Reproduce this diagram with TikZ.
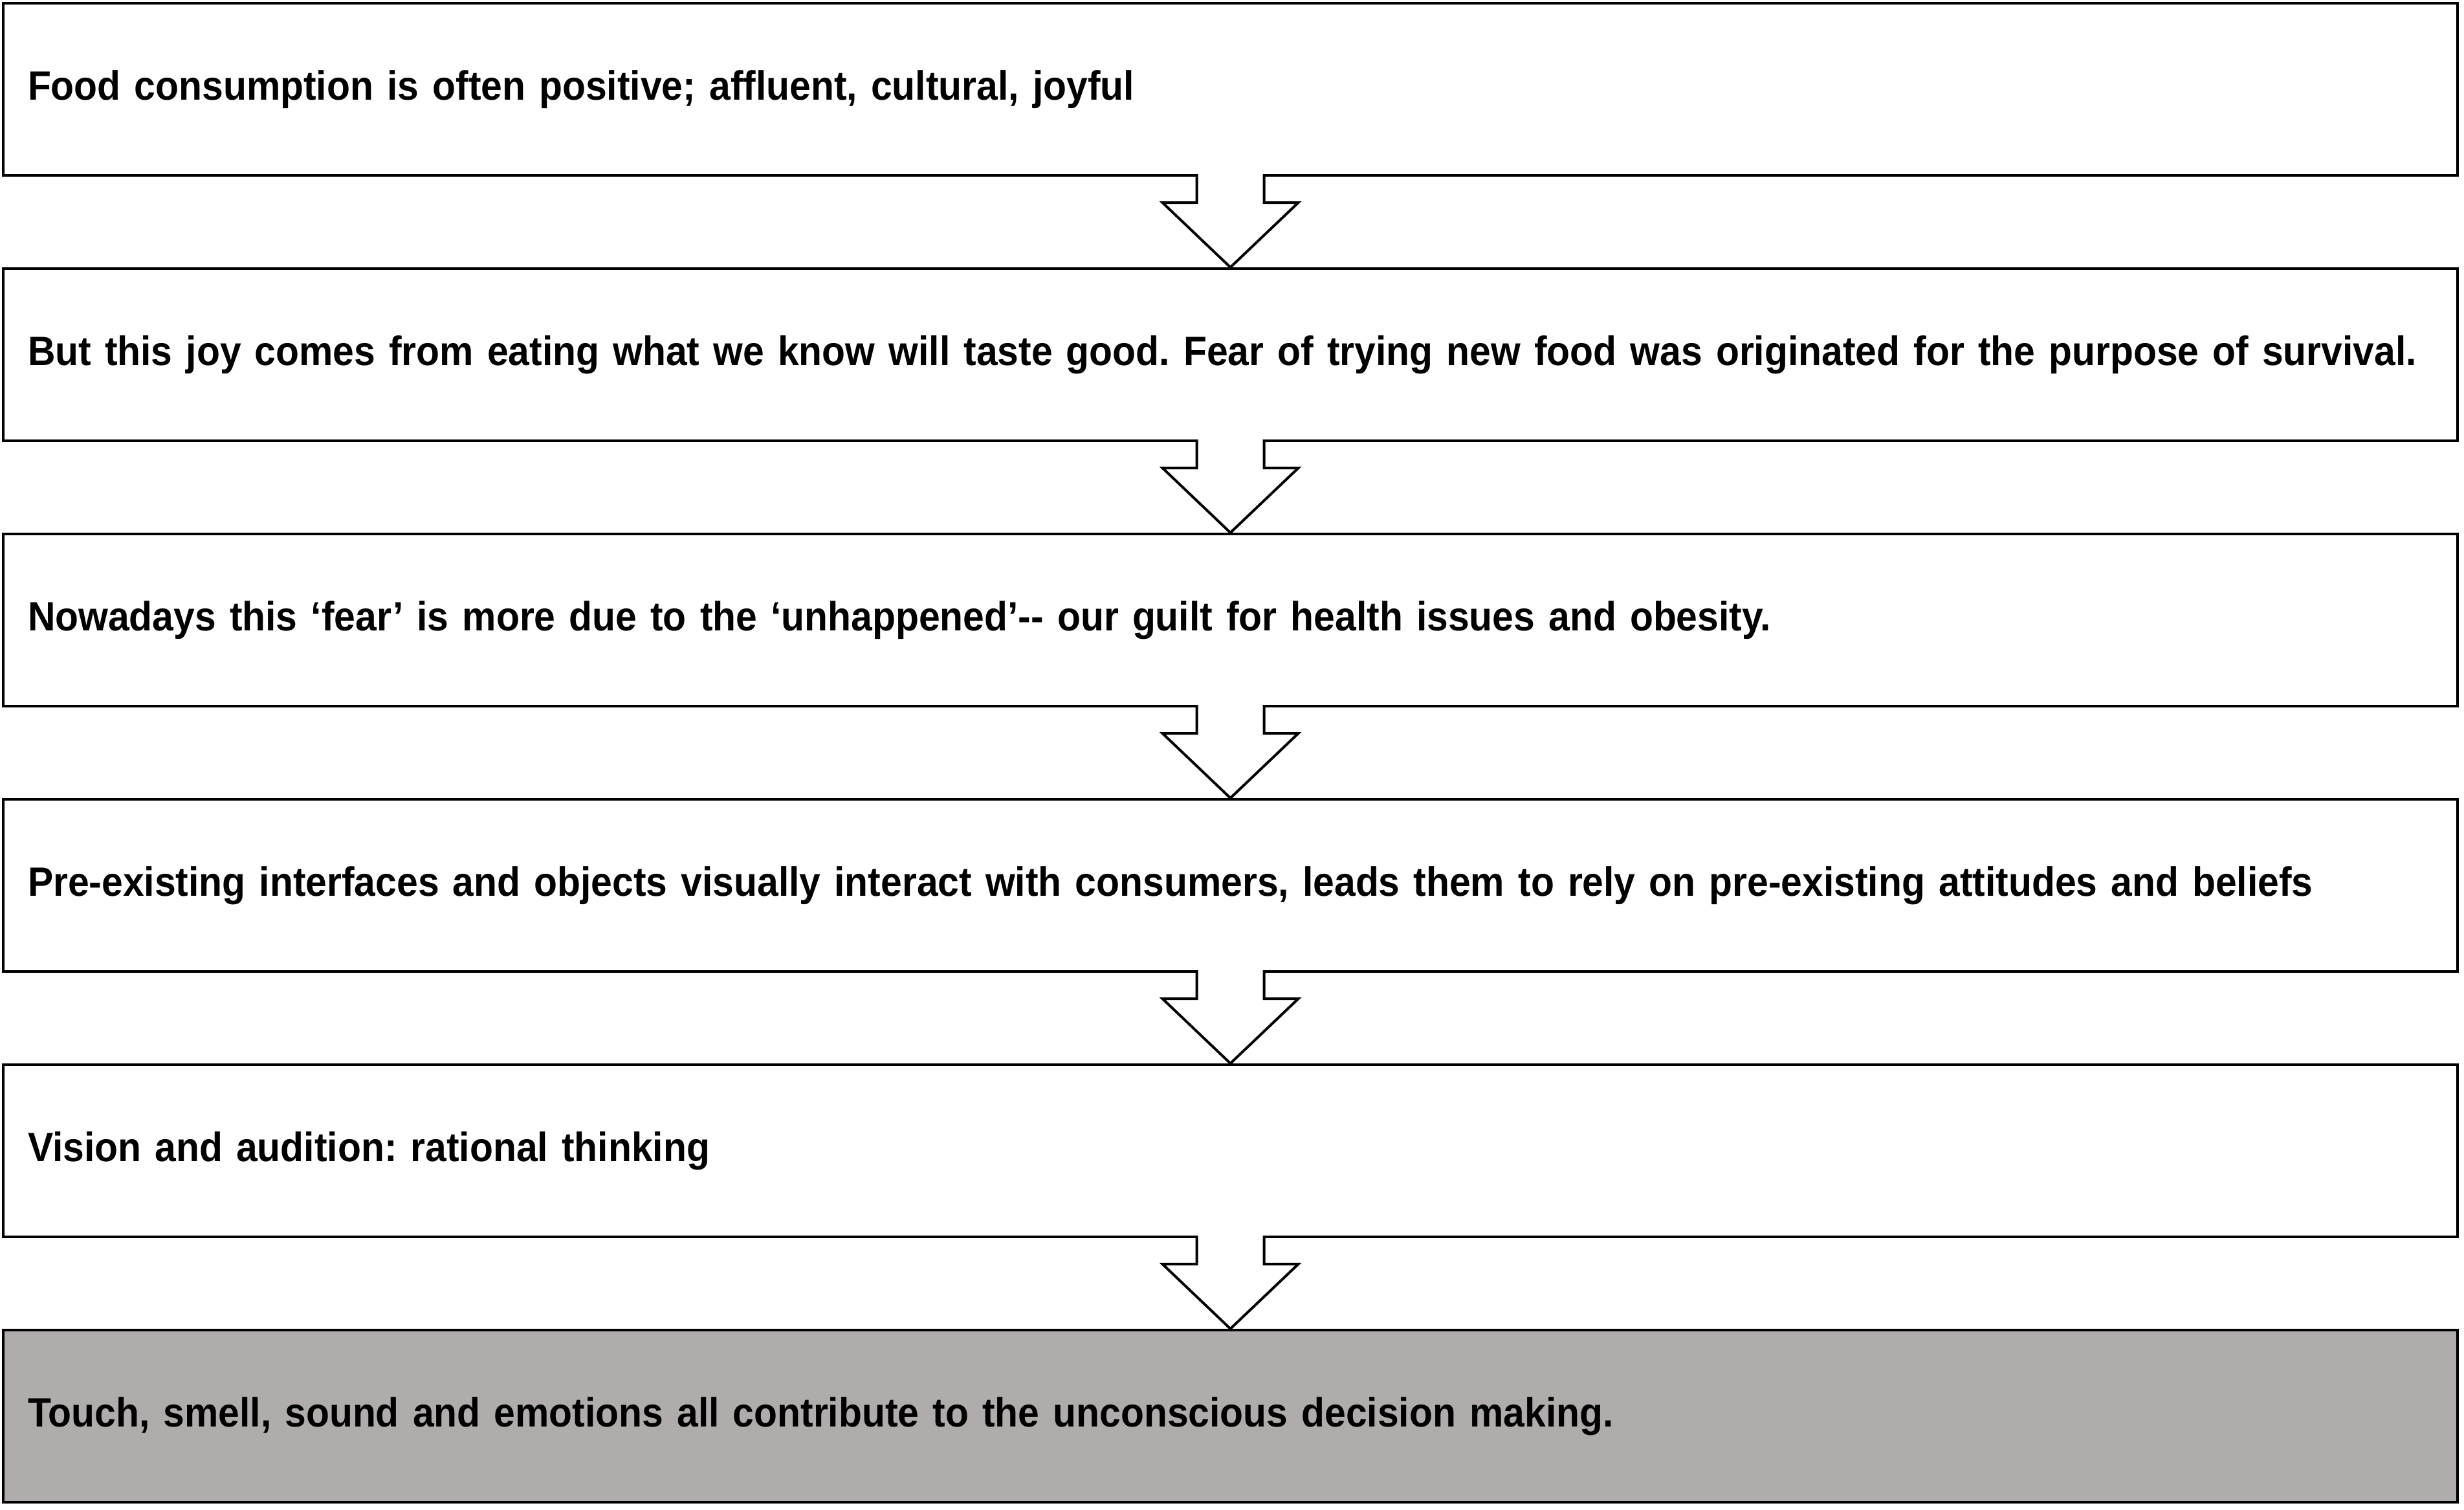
\documentclass[tikz,border=0pt]{standalone}
\usepackage{fontspec}
\setmainfont{Liberation Sans}[FakeStretch=0.93]
\usepackage{xcolor}
\usetikzlibrary{positioning,calc}

\definecolor{lastgray}{RGB}{175,172,171}
\frenchspacing

\begin{document}
\begin{tikzpicture}[
    stepbox/.style={draw,rectangle,line width=0.04cm,minimum width=37.93cm,minimum height=2.66cm,
        text width=37.17cm,align=left,inner xsep=0.38cm,inner ysep=0pt,
        font=\fontsize{18}{22}\selectfont\bfseries},
    blockarrow/.style={draw,line width=0.04cm,fill=white,
        to path={(\tikztostart.south) ++(-0.52,0.04) -- ++(0,-0.44) -- ++(-0.53,0)
            -- (\tikztotarget.north) -- ++(1.05,1.00) -- ++(-0.53,0) -- ++(0,0.44)}}
]
    \useasboundingbox (0,0) rectangle (38.08,-23.32);

    \node[stepbox] (food) at (19.015,-1.38) {Food consumption is often positive; affluent, cultural, joyful};
    \node[stepbox,below=1.40cm of food] (joy) {But this joy comes from eating what we know will taste good. Fear of trying new food was originated for the purpose of survival.};
    \node[stepbox,below=1.40cm of joy] (fear) {Nowadays this ‘fear’ is more due to the ‘unhappened’{-}{-} our guilt for health issues and obesity.};
    \node[stepbox,below=1.40cm of fear] (preexist) {Pre-existing interfaces and objects visually interact with consumers, leads them to rely on pre-existing attitudes and beliefs};
    \node[stepbox,below=1.40cm of preexist] (vision) {Vision and audition: rational thinking};
    \node[stepbox,fill=lastgray,below=1.40cm of vision] (touch) {Touch, smell, sound and emotions all contribute to the unconscious decision making.};

    \draw[blockarrow] (food) to (joy);
    \draw[blockarrow] (joy) to (fear);
    \draw[blockarrow] (fear) to (preexist);
    \draw[blockarrow] (preexist) to (vision);
    \draw[blockarrow] (vision) to (touch);
\end{tikzpicture}
\end{document}
